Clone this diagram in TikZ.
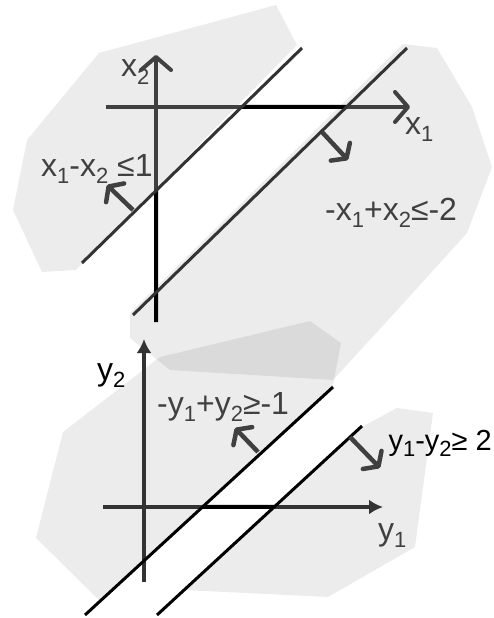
\documentclass[tikz,border=0pt]{standalone}
\usepackage{fontspec}
\setmainfont{Liberation Sans}
\usetikzlibrary{arrows.meta}
\definecolor{ciemny}{HTML}{404040}
\newcommand{\dolny}[1]{\raisebox{-0.22em}{\fontsize{22}{22}\selectfont #1}}

\begin{document}
\begin{tikzpicture}[x=1pt, y=-1pt,
    obszar/.style={fill=black, fill opacity=0.075, draw=none},
    os/.style={draw=ciemny, line width=4pt},
    prosta/.style={line width=3pt},
    wektor/.style={draw=ciemny, line width=4.5pt, -{Straight Barb[length=9pt,width=26pt,round]}},
    etykieta/.style={inner sep=0pt, anchor=base west, font=\fontsize{32}{34}\selectfont}]
    \useasboundingbox (0,0) rectangle (493,618);

    % Punkty
    \coordinate (x1p) at (106,107);
    \coordinate (x1k) at (410,107);
    \coordinate (x2p) at (156,322);
    \coordinate (x2k) at (156,55);
    \coordinate (a1) at (302,48);
    \coordinate (a2) at (82,263);
    \coordinate (b1) at (407,48);
    \coordinate (b2) at (133,315);

    \coordinate (y1p) at (103,507);
    \coordinate (y1k) at (383,507);
    \coordinate (y2p) at (144,582);
    \coordinate (y2k) at (144,339);
    \coordinate (c1) at (333,387);
    \coordinate (c2) at (85,615);
    \coordinate (d1) at (362,426);
    \coordinate (d2) at (157,615);

    % Obszary
    \fill[obszar] (99,53) -- (276,5) -- (297,45) -- (76,270) -- (42,272) -- (13,210) -- (27,140) -- cycle;
    \fill[obszar] (403,44) -- (437,48) -- (472,107) -- (492,167) -- (467,233) -- (400,307)
        -- (333,380) -- (170,370) -- (130,338) -- (130,313) -- cycle;
    \fill[obszar] (333,385) -- (341,343) -- (310,321) -- (160,357) -- (63,432) -- (36,538)
        -- (100,601) -- cycle;
    \fill[obszar] (360,428) -- (397,408) -- (433,413) -- (415,547) -- (328,597) -- (184,590) -- cycle;

    % Osie
    \draw[os, -{Straight Barb[length=13pt,width=30pt,round]}] (x1p) -- (x1k);
    \draw[os, -{Straight Barb[length=13pt,width=30pt,round]}] (x2p) -- (x2k);
    \draw[line width=4pt] (intersection of a1--a2 and x1p--x1k) -- (intersection of b1--b2 and x1p--x1k);
    \draw[line width=4pt] (intersection of a1--a2 and x2p--x2k) -- (x2p);

    \draw[os, draw=black!80, -{Latex[length=14pt,width=15pt]}] (y1p) -- (y1k);
    \draw[os, draw=black!80, -{Latex[length=14pt,width=15pt]}] (y2p) -- (y2k);
    \draw[line width=4pt] (intersection of c1--c2 and y1p--y1k) -- (intersection of d1--d2 and y1p--y1k);

    % Proste
    \draw[prosta, draw=black!80] (a1) -- (a2);
    \draw[prosta, draw=black!80] (b1) -- (b2);
    \draw[prosta] (c1) -- (c2);
    \draw[prosta] (d1) -- (d2);

    % Wektory
    \coordinate (n1) at (133,210);
    \coordinate (m1) at (107,185);
    \coordinate (n2) at (322,132);
    \coordinate (m2) at (348,160);
    \coordinate (n3) at (258,452);
    \coordinate (m3) at (235,428);
    \coordinate (n4) at (350,437);
    \coordinate (m4) at (380,468);
    \draw[wektor] (n1) -- (m1);
    \draw[wektor] (n2) -- (m2);
    \draw[wektor] (n3) -- (m3);
    \draw[wektor] (n4) -- (m4);

    % Etykiety
    \node[etykieta, text=ciemny] (lx2) at (121,77) {x\dolny{2}};
    \node[etykieta, text=ciemny] (lx1) at (405,134) {x\dolny{1}};
    \node[etykieta, text=ciemny] (nier1) at (41,176) {x\dolny{1}-x\dolny{2} ≤1};
    \node[etykieta, text=ciemny] (nier2) at (325,220) {-x\dolny{1}+x\dolny{2}≤-2};
    \node[etykieta] (ly2) at (97,380) {y\dolny{2}};
    \node[etykieta, text=ciemny] (ly1) at (378,540) {y\dolny{1}};
    \node[etykieta, text=ciemny] (nier3) at (157,414) {-y\dolny{1}+y\dolny{2}≥-1};
    \node[etykieta, anchor=base east, font=\fontsize{29}{31}\selectfont] (nier4) at (492,450)
        {y\dolny{1}-y\dolny{2}≥ 2};
\end{tikzpicture}
\end{document}
